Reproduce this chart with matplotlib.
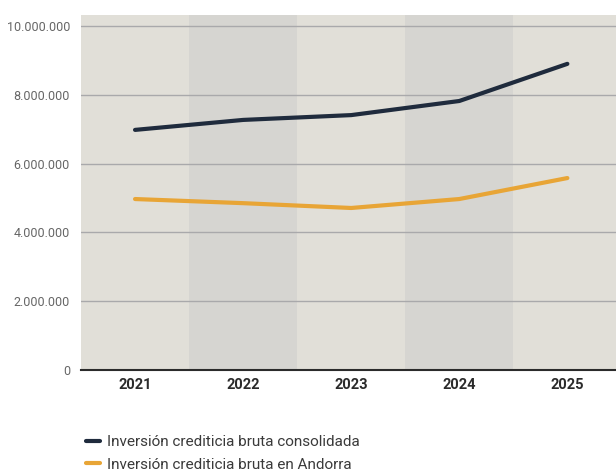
import matplotlib.pyplot as plt
from matplotlib.ticker import FuncFormatter

years = ['2021', '2022', '2023', '2024', '2025']
consolidada = [6980000, 7270000, 7410000, 7820000, 8900000]
andorra = [4970000, 4850000, 4710000, 4970000, 5580000]
labels = ['Inversión crediticia bruta consolidada', 'Inversión crediticia bruta en Andorra']

plt.rcParams['font.family'] = ['Roboto', 'DejaVu Sans']

fig = plt.figure(figsize=(6.16, 4.74), dpi=100)
ax = fig.add_axes([81 / 616, 104 / 474, 535 / 616, 355 / 474])
ax.set_facecolor('#e1dfd8')

# alternate shaded columns
for i in range(len(years)):
    if i % 2 == 1:
        ax.axvspan(i - 0.5, i + 0.5, color='#d6d5d1', zorder=0, lw=0)

x = range(len(years))
ax.plot(x, consolidada, color='#1f2b3d', lw=3, solid_capstyle='round', label=labels[0], zorder=3)
ax.plot(x, andorra, color='#e8a536', lw=3, solid_capstyle='round', label=labels[1], zorder=3)

ax.set_xlim(-0.5, 4.45)
ax.set_ylim(0, 10320000)
ax.set_yticks(range(0, 10000001, 2000000))
ax.yaxis.set_major_formatter(FuncFormatter(lambda v, p: f'{int(v):,}'.replace(',', '.')))
ax.set_xticks(list(x))
ax.set_xticklabels(years, fontweight='bold', color='#2b2b2b', fontsize=10.5)
ax.grid(axis='y', color='#a9a9ab', lw=1)
ax.set_axisbelow(True)
ax.tick_params(axis='y', length=0, pad=8, labelsize=9, labelcolor='#666666')
ax.tick_params(axis='x', length=0, pad=6)
for s in ['top', 'right', 'left']:
    ax.spines[s].set_visible(False)
ax.spines['bottom'].set_color('#2b2b2b')
ax.spines['bottom'].set_linewidth(1.5)

fig.legend(loc='upper left', bbox_to_anchor=(80 / 616, 1 - 429 / 474), frameon=False,
           fontsize=11, handlelength=0.9, handletextpad=0.45, labelspacing=0.55,
           labelcolor='#3a3a3a', borderaxespad=0)

fig.savefig('out.png', dpi=100)
